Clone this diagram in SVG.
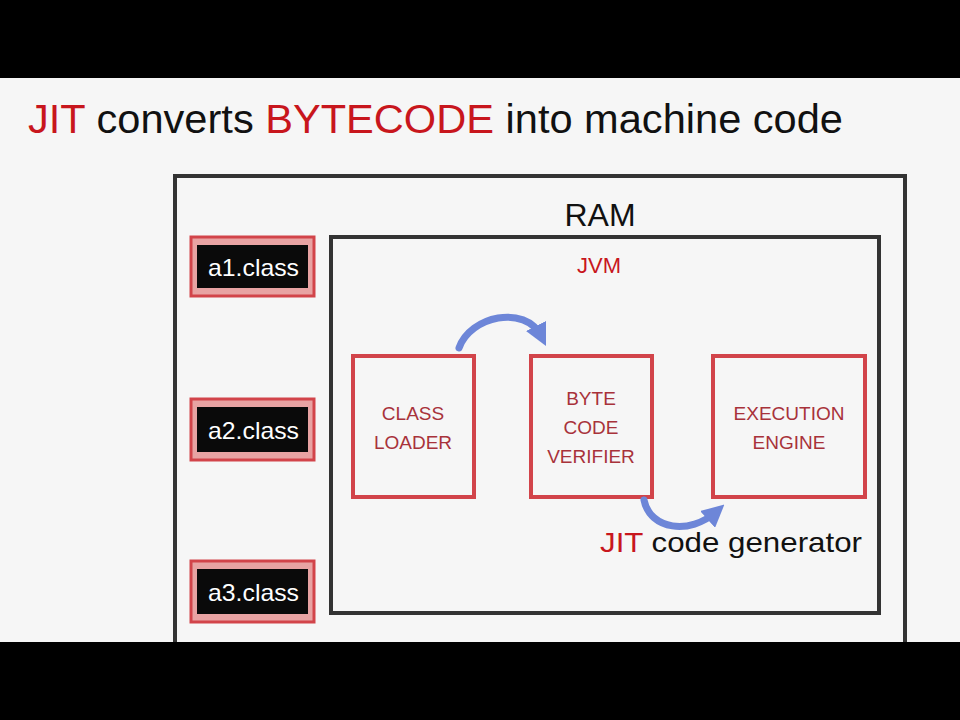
<svg xmlns="http://www.w3.org/2000/svg" width="960" height="720" viewBox="0 0 960 720">
<defs>
<style>
.band{fill:#000}
.frame{fill:none;stroke:#333;stroke-width:4}
.node{fill:none;stroke:#d2444a;stroke-width:4}
.cls{fill:#e8a3a3;stroke:#d2444a;stroke-width:3}
.clsin{fill:#0a0a0a}
.t{font-family:"Liberation Sans","DejaVu Sans",sans-serif}
.red{fill:#c8161d}
.blk{fill:#111}
.nl{fill:#a8323a;font-size:19px;text-anchor:middle}
.wt{fill:#fff;font-size:24px}
.arc{fill:none;stroke:#6d86d8;stroke-width:7;stroke-linecap:round}
</style>
<marker id="ah" viewBox="0 0 10 10" refX="5" refY="5" markerWidth="3.2" markerHeight="3.2" orient="auto" markerUnits="strokeWidth">
<path d="M0,0 L10,5 L0,10 Z" fill="#6d86d8"/>
</marker>
</defs>
<rect width="960" height="720" fill="#f6f6f6"/>
<rect class="band" x="0" y="0" width="960" height="78"/>
<g id="title">
<text class="t" x="28" y="133" font-size="40" textLength="815" lengthAdjust="spacingAndGlyphs"><tspan class="red">JIT</tspan><tspan class="blk"> converts </tspan><tspan class="red">BYTECODE</tspan><tspan class="blk"> into machine code</tspan></text>
</g>
<g id="ram">
<rect class="frame" x="175" y="176" width="730" height="500"/>
<text class="t blk" x="600" y="226" font-size="32" text-anchor="middle">RAM</text>
</g>
<g id="jvm">
<rect class="frame" x="331" y="237" width="548" height="376"/>
<text class="t red" x="599" y="273" font-size="22" text-anchor="middle">JVM</text>
</g>
<g id="a1">
<rect class="cls" x="191" y="237" width="123" height="59"/>
<rect class="clsin" x="197" y="245" width="111" height="43"/>
<text class="t wt" x="208" y="276" textLength="91" lengthAdjust="spacingAndGlyphs">a1.class</text>
</g>
<g id="a2">
<rect class="cls" x="191" y="399" width="123" height="61"/>
<rect class="clsin" x="197" y="407" width="111" height="45"/>
<text class="t wt" x="208" y="439" textLength="91" lengthAdjust="spacingAndGlyphs">a2.class</text>
</g>
<g id="a3">
<rect class="cls" x="191" y="561" width="123" height="61"/>
<rect class="clsin" x="197" y="569" width="111" height="45"/>
<text class="t wt" x="208" y="601" textLength="91" lengthAdjust="spacingAndGlyphs">a3.class</text>
</g>
<g id="classloader">
<rect class="node" x="353" y="356" width="121" height="141"/>
<text class="t nl" x="413" y="420">CLASS</text>
<text class="t nl" x="413" y="449">LOADER</text>
</g>
<g id="verifier">
<rect class="node" x="531" y="356" width="121" height="141"/>
<text class="t nl" x="591" y="405">BYTE</text>
<text class="t nl" x="591" y="434">CODE</text>
<text class="t nl" x="591" y="463">VERIFIER</text>
</g>
<g id="engine">
<rect class="node" x="713" y="356" width="152" height="141"/>
<text class="t nl" x="789" y="420">EXECUTION</text>
<text class="t nl" x="789" y="449">ENGINE</text>
</g>
<g id="connectors">
<path class="arc" d="M459,348 C470,316 525,304 541,336" marker-end="url(#ah)"/>
<path class="arc" d="M644,500 C650,530 690,535 716,512" marker-end="url(#ah)"/>
</g>
<g id="jitlabel">
<text class="t" x="600" y="552" font-size="28" textLength="262" lengthAdjust="spacingAndGlyphs"><tspan class="red">JIT</tspan><tspan class="blk"> code generator</tspan></text>
</g>
<rect class="band" x="0" y="642" width="960" height="78"/>
</svg>
